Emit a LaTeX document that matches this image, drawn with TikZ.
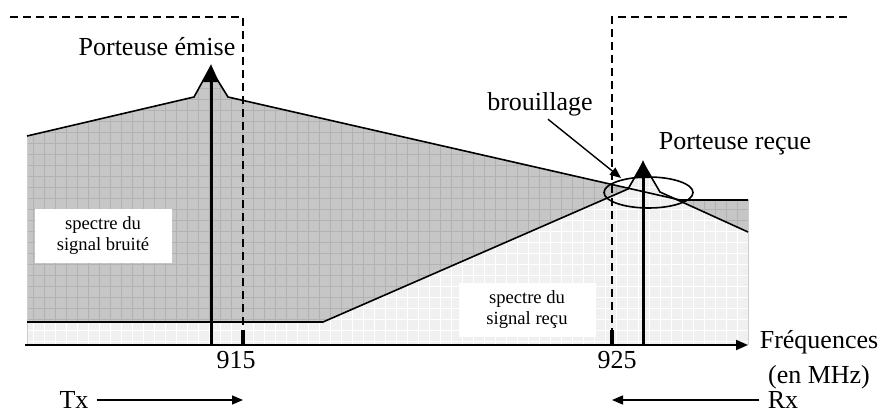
\documentclass[tikz,border=0pt]{standalone}
\usepackage{fontspec}
\setmainfont{Liberation Serif}
\usetikzlibrary{arrows.meta}

\begin{document}
\begin{tikzpicture}[x=0.5pt,y=-0.5pt,
    lbl/.style={inner sep=0pt,font=\fontsize{13}{17.5}\selectfont},
    boxlbl/.style={fill=white,align=center,inner sep=0pt,minimum width=68.5pt,
        minimum height=27pt,font=\fontsize{9.3}{10.5}\selectfont},
    carrier/.style={line width=1.5pt,-{Triangle[length=9pt,width=7.5pt]}},
    band/.style={dash pattern=on 4pt off 2.5pt,line width=0.75pt},
    bartick/.style={line width=2pt},
    spec/.style={line width=0.8pt},
    thinarrow/.style={line width=0.7pt,-{Triangle[length=5.5pt,width=4.5pt]}}]
    \useasboundingbox (0,0) rectangle (884,412);
    % axis ends
    \coordinate (O) at (27,345);
    \coordinate (E) at (748,345);
    % spectre du signal bruite
    \coordinate (g0) at (27,136);
    \coordinate (g1) at (194,97);
    \coordinate (g2) at (210,68);
    \coordinate (g3) at (228,97);
    \coordinate (g4) at (680,200);
    \coordinate (g5) at (748,200);
    % spectre du signal recu
    \coordinate (r0) at (27,322);
    \coordinate (r1) at (323,322);
    \coordinate (r2) at (628,189);
    \coordinate (r3) at (643,163);
    \coordinate (r4) at (660,192);
    \coordinate (r5) at (748,232);
    \begin{scope}
        \clip (g0)--(g1)--(g2)--(g3)--(g4)--(g5)--(E)--(O)--cycle;
        \fill[gray!45] (0,0) rectangle (884,412);
        \draw[black!30,line width=0.5pt,step=5.5pt] (0,0) grid (884,412);
    \end{scope}
    \begin{scope}
        \clip (r0)--(r1)--(r2)--(r3)--(r4)--(r5)--(E)--(O)--cycle;
        \fill[black!6] (0,0) rectangle (884,412);
        \draw[white,line width=0.5pt,step=5.5pt] (0,0) grid (884,412);
    \end{scope}
    \draw[gray!40] (O)--(g0);
    \draw[gray!40] (g5)--(E);
    \draw[spec] (g0)--(g1)--(g2)--(g3)--(g4)--(g5);
    \draw[spec] (r0)--(r1)--(r2)--(r3)--(r4)--(r5);
    \node[boxlbl] (bruit) at (103,236) {spectre du\\signal bruité};
    \node[boxlbl] (recu) at (527,310) {spectre du\\signal reçu};
    % bandes Tx / Rx
    \coordinate (t1) at (243,330);
    \coordinate (t2) at (612,330);
    \draw[band] (10,17) -| (t1);
    \draw[band] (847,17) -| (t2);
    \draw[bartick] (t1)--(t1|-O);
    \draw[bartick] (t2)--(t2|-O);
    % porteuses
    \coordinate (pe) at (211,64);
    \coordinate (pr) at (643,160);
    \draw[carrier] (pe|-O)--(pe);
    \draw[carrier] (pr|-O)--(pr);
    \draw[line width=1pt,-{Triangle[length=6pt,width=5pt]}] (25,345)--(E);
    \draw[spec] (648.5,192.5) ellipse [x radius=22.25pt,y radius=7.75pt];
    \node[lbl] (emise) at (157,47) {Porteuse émise};
    \node[lbl] (recue) at (735,144) {Porteuse reçue};
    \node[lbl] (brouil) at (540,104) {brouillage};
    \coordinate (bp) at (621,178);
    \draw[thinarrow] ([shift={(8,3)}]brouil.south)--(bp);
    \node[lbl] (f915) at (236,360) {915};
    \node[lbl] (f925) at (617,360) {925};
    \node[lbl,align=center] (freq) at (819,360) {Fréquences\\(en MHz)};
    \node[lbl] (tx) at (74,400) {Tx};
    \node[lbl] (rx) at (783,400) {Rx};
    \draw[thinarrow] ([xshift=4pt]tx.east)--(tx-|t1);
    \draw[thinarrow] ([xshift=-4pt]rx.west)--(rx-|t2);
\end{tikzpicture}
\end{document}
